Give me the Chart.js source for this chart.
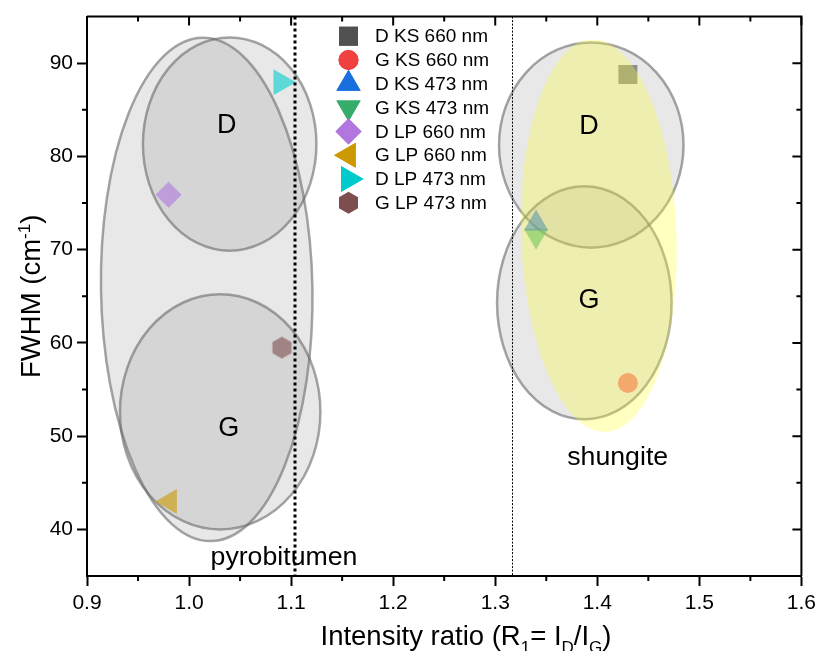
<!DOCTYPE html>
<html><head><meta charset="utf-8">
<script src="https://cdn.jsdelivr.net/npm/chart.js@4.4.0/dist/chart.umd.min.js"></script>
<style>html,body{margin:0;padding:0;background:#fff;}#wrap{width:821px;height:651px;}</style>
</head><body><div id="wrap"><canvas id="c" width="821" height="651"></canvas></div>
<script>
// ---------- data ----------
const seriesNames = ['D KS 660 nm','G KS 660 nm','D KS 473 nm','G KS 473 nm','D LP 660 nm','G LP 660 nm','D LP 473 nm','G LP 473 nm'];
const seriesX = [1.430, 1.430, 1.340, 1.340, 0.980, 0.981, 1.090, 1.091];
const seriesY = [88.8, 55.7, 72.8, 71.5, 75.9, 43.0, 87.95, 59.5];
const xTicks = [0.9, 1.0, 1.1, 1.2, 1.3, 1.4, 1.5, 1.6];
const xMinor = [0.95, 1.05, 1.15, 1.25, 1.35, 1.45, 1.55];
const yTicks = [40, 50, 60, 70, 80, 90];
const yMinor = [45, 55, 65, 75, 85];
// region ellipses: centre x, centre y, radius x, radius y (data units)
const ellipseX  = [1.0173, 1.0398, 1.0305, 1.3941, 1.3873];
const ellipseY  = [65.74, 81.33, 52.61, 81.22, 64.31];
const ellipseRX = [0.1036, 0.0850, 0.0982, 0.0904, 0.0855];
const ellipseRY = [27.0, 11.44, 12.61, 11.0, 12.5];
const yellowX = 1.4015, yellowY = 71.49, yellowRX = 0.0762, yellowRY = 21.06;
const divX = [1.104, 1.316];
const regionLabels = ['D','G','D','G'];
const regionLabelX = [1.037, 1.039, 1.392, 1.392];
const regionLabelY = [83.3, 50.8, 83.2, 64.5];
const areaNames = ['pyrobitumen','shungite'];
const areaNameX = [1.093, 1.420];
const areaNameY = [37.0, 47.7];

// ---------- styles ----------
const FONT = '"Liberation Sans", Arial, sans-serif';
const colors = ['#515151','#F14040','#1A6FDF','#37AD6B','#B177DE','#CC9900','#00CBCC','#7D4E4E'];
const shapes = ['rect','circle','triangle','triangle','rectRot','triangle','triangle','hexagon'];
const rots = [0,0,0,180,0,270,90,0];
const radii = [13.4,10,14,14,13,14.4,15,11];
const ALPHA = 0.6;
function rgba(hex,a){const n=parseInt(hex.slice(1),16);return `rgba(${n>>16},${(n>>8)&255},${n&255},${a})`;}
function hexPath(ctx,x,y,r){ctx.beginPath();for(let k=0;k<6;k++){const a=Math.PI/3*k-Math.PI/2;const px=x+r*Math.cos(a),py=y+r*Math.sin(a);k?ctx.lineTo(px,py):ctx.moveTo(px,py);}ctx.closePath();}
function hexCanvas(color,r){const c=document.createElement('canvas');const s=Math.ceil(2*r+2);c.width=s;c.height=s;const g=c.getContext('2d');g.fillStyle=color;hexPath(g,s/2,s/2,r);g.fill();return c;}

const datasets = seriesNames.map((n,i)=>({
  label:n,
  data:[{x:seriesX[i],y:seriesY[i]}],
  pointStyle: shapes[i]==='hexagon' ? hexCanvas(rgba(colors[i],ALPHA),radii[i]) : shapes[i],
  pointRadius: radii[i],
  pointRotation: rots[i],
  backgroundColor: rgba(colors[i],ALPHA),
  borderWidth:0,
  pointBorderWidth:0,
  showLine:false
}));

function drawRich(ctx, parts, size){
  let w=0;
  parts.forEach(p=>{const s=p.sub||p.sup?size*0.62:size;ctx.font=`${s}px ${FONT}`;w+=ctx.measureText(p.t).width;});
  let x=-w/2;
  parts.forEach(p=>{const s=p.sub||p.sup?size*0.62:size;ctx.font=`${s}px ${FONT}`;
    const dy=p.sub?size*0.28:(p.sup?-size*0.38:0);
    ctx.fillText(p.t,x,dy);x+=ctx.measureText(p.t).width;});
}

const deco = {
  id:'deco',
  beforeDatasetsDraw(chart){
    const {ctx,scales:{x,y},chartArea:ca}=chart;
    ctx.save();
    ctx.beginPath();ctx.rect(ca.left,ca.top,ca.right-ca.left,ca.bottom-ca.top);ctx.clip();
    ellipseX.forEach((cx,i)=>{
      const px=x.getPixelForValue(cx), py=y.getPixelForValue(ellipseY[i]);
      const rx=Math.abs(x.getPixelForValue(cx+ellipseRX[i])-px), ry=Math.abs(y.getPixelForValue(ellipseY[i]+ellipseRY[i])-py);
      const rot = i===0 ? -1*Math.PI/180 : 0;
      ctx.beginPath();ctx.ellipse(px,py,rx,ry,rot,0,Math.PI*2);
      ctx.fillStyle='rgba(120,120,120,0.17)';ctx.fill();
      ctx.lineWidth=2.5;ctx.strokeStyle='rgba(105,105,105,0.6)';ctx.stroke();
    });
    ctx.restore();
  },
  afterDatasetsDraw(chart){
    const {ctx,scales:{x,y},chartArea:ca}=chart;
    ctx.save();
    {
      const px=x.getPixelForValue(yellowX), py=y.getPixelForValue(yellowY);
      const rx=Math.abs(x.getPixelForValue(yellowX+yellowRX)-px), ry=Math.abs(y.getPixelForValue(yellowY+yellowRY)-py);
      ctx.beginPath();ctx.ellipse(px,py,rx,ry,-2*Math.PI/180,0,Math.PI*2);
      ctx.fillStyle='rgba(255,255,50,0.3)';ctx.fill();
    }
    divX.forEach((v,i)=>{
      const px=Math.round(x.getPixelForValue(v))+(i?0.5:0);
      ctx.beginPath();ctx.moveTo(px,ca.top);ctx.lineTo(px,ca.bottom);
      ctx.strokeStyle='#000';
      if(i===0){ctx.lineWidth=3;ctx.setLineDash([3,3]);}else{ctx.lineWidth=1;ctx.setLineDash([2,1.5]);}
      ctx.stroke();
    });
    ctx.setLineDash([]);
    ctx.fillStyle='#000';ctx.textAlign='center';ctx.textBaseline='middle';
    ctx.font=`27px ${FONT}`;
    regionLabels.forEach((t,i)=>ctx.fillText(t,x.getPixelForValue(regionLabelX[i]),y.getPixelForValue(regionLabelY[i])));
    ctx.font=`26.7px ${FONT}`;
    areaNames.forEach((t,i)=>ctx.fillText(t,x.getPixelForValue(areaNameX[i]),y.getPixelForValue(areaNameY[i])));
    ctx.strokeStyle='#000';ctx.lineWidth=2;
    ctx.beginPath();ctx.moveTo(ca.left,ca.top);ctx.lineTo(ca.right,ca.top);ctx.lineTo(ca.right,ca.bottom);ctx.stroke();
    ctx.beginPath();
    xTicks.forEach(v=>{const p=x.getPixelForValue(v);ctx.moveTo(p,ca.top);ctx.lineTo(p,ca.top+9);});
    xMinor.forEach(v=>{const p=x.getPixelForValue(v);ctx.moveTo(p,ca.top);ctx.lineTo(p,ca.top+5);ctx.moveTo(p,ca.bottom);ctx.lineTo(p,ca.bottom+5);});
    yTicks.forEach(v=>{const p=y.getPixelForValue(v);ctx.moveTo(ca.right,p);ctx.lineTo(ca.right-9,p);});
    yMinor.forEach(v=>{const p=y.getPixelForValue(v);ctx.moveTo(ca.right,p);ctx.lineTo(ca.right-5,p);ctx.moveTo(ca.left,p);ctx.lineTo(ca.left-5,p);});
    ctx.stroke();
    const lx=348.5, tx=375, ly0=36.2, dy=23.8;
    ctx.textAlign='left';ctx.textBaseline='middle';ctx.font=`19px ${FONT}`;
    seriesNames.forEach((n,i)=>{
      const yy=ly0+i*dy;
      ctx.fillStyle=colors[i];
      if(shapes[i]==='hexagon'){hexPath(ctx,lx,yy,radii[i]);ctx.fill();}
      else {ctx.beginPath();Chart.helpers.drawPoint(ctx,{pointStyle:shapes[i],radius:radii[i],rotation:rots[i],borderWidth:0},lx,yy);ctx.fill();}
      ctx.fillStyle='#000';ctx.fillText(n,tx,yy+1);
    });
    ctx.restore();
  },
  afterDraw(chart){
    const {ctx,chartArea:ca}=chart;
    ctx.save();ctx.fillStyle='#000';ctx.textAlign='left';ctx.textBaseline='alphabetic';
    ctx.translate(466, 645);
    drawRich(ctx,[{t:'Intensity ratio (R'},{t:'1',sub:true},{t:'= I'},{t:'D',sub:true},{t:'/I'},{t:'G',sub:true},{t:')'}],27.5);
    ctx.restore();
    ctx.save();ctx.fillStyle='#000';ctx.textAlign='left';ctx.textBaseline='alphabetic';
    ctx.translate(40,(ca.top+ca.bottom)/2);ctx.rotate(-Math.PI/2);
    drawRich(ctx,[{t:'FWHM (cm'},{t:'-1',sup:true},{t:')'}],27.5);
    ctx.restore();
  }
};

new Chart(document.getElementById('c'),{
  type:'scatter',
  data:{datasets},
  options:{
    responsive:false,animation:false,devicePixelRatio:1,
    layout:{padding:{top:12,right:18,left:0,bottom:0}},
    plugins:{legend:{display:false},tooltip:{enabled:false}},
    scales:{
      x:{type:'linear',min:0.9,max:1.6,
        afterFit(s){s.height=75;},
        afterBuildTicks(s){s.ticks=xTicks.map(v=>({value:v}));},
        ticks:{font:{family:FONT,size:21},color:'#000',padding:5,maxRotation:0,autoSkip:false,callback:v=>Number(v).toFixed(1)},
        grid:{drawOnChartArea:false,drawTicks:true,tickLength:10,tickWidth:2,tickColor:'#000'},
        border:{color:'#000',width:2}},
      y:{type:'linear',min:35,max:95,
        afterFit(s){s.width=87;},
        afterBuildTicks(s){s.ticks=yTicks.map(v=>({value:v}));},
        ticks:{font:{family:FONT,size:21},color:'#000',padding:4,autoSkip:false,callback:v=>String(v)},
        grid:{drawOnChartArea:false,drawTicks:true,tickLength:10,tickWidth:2,tickColor:'#000'},
        border:{color:'#000',width:2}}
    }
  },
  plugins:[deco]
});
</script></body></html>
